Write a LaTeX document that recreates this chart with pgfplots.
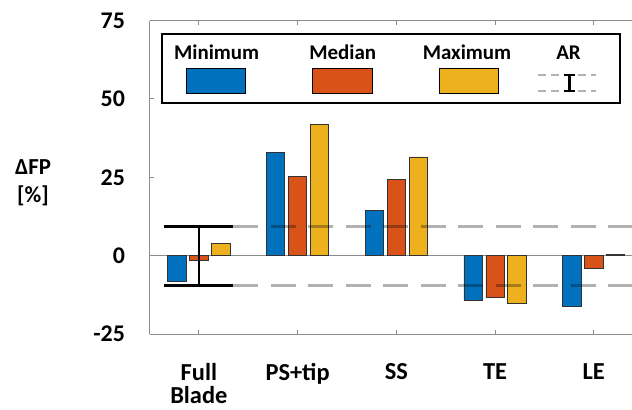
\documentclass[border=0pt]{standalone}
\usepackage{fontspec}
\setmainfont{Carlito}
\usepackage{pgfplots}
\pgfplotsset{compat=1.18}

\definecolor{mblue}{HTML}{0072BD}
\definecolor{morange}{HTML}{D95319}
\definecolor{myellow}{HTML}{EDB120}
\definecolor{axgray}{HTML}{8C8C8C}

\begin{document}
\begin{tikzpicture}
\begin{axis}[
  scale only axis,
  width=483.7bp, height=313.5bp,
  xmin=0.5, xmax=5.4, ymin=-25, ymax=75,
  axis x line=box, axis y line=left,
  axis line style={-, axgray, line width=0.9bp},
  tick align=inside,
  major tick length=4bp,
  tick style={axgray, line width=0.9bp},
  xtick={1,2,3,4,5},
  xticklabels={{Full\\Blade},{PS+tip},{SS},{TE},{LE}},
  ytick={-25,0,25,50,75},
  /pgf/number format/assume math mode=true,
  ticklabel style={font=\fontsize{24}{22}\selectfont\bfseries},
  x tick label style={font=\fontsize{24.5}{22.5}\selectfont\bfseries, align=center, anchor=north, yshift=-26bp},
  y tick label style={anchor=east, xshift=-21bp},
  clip=false,
]
\coordinate (TL) at (rel axis cs:0,1);

% zero line
\addplot[axgray, line width=0.8bp] coordinates {(0.5,0) (5.4,0)};

% Minimum
\addplot[ybar, bar width=0.185, bar shift=-0.222, fill=mblue, draw=black!80, line width=0.7bp]
  coordinates {(1,-8.2) (2,33.0) (3,14.4) (4,-14.2) (5,-16.1)};
% Median
\addplot[ybar, bar width=0.185, bar shift=0, fill=morange, draw=black!80, line width=0.7bp]
  coordinates {(1,-1.4) (2,25.3) (3,24.4) (4,-13.3) (5,-4.1)};
% Maximum
\addplot[ybar, bar width=0.185, bar shift=0.222, fill=myellow, draw=black!80, line width=0.7bp]
  coordinates {(1,3.9) (2,41.9) (3,31.5) (4,-15.3) (5,0.4)};

% AR band limits
\addplot[black, opacity=0.3, line width=3.2bp, dash pattern=on 25bp off 12.5bp]
  coordinates {(1.35,9.3) (5.4,9.3)};
\addplot[black, opacity=0.3, line width=3.2bp, dash pattern=on 25bp off 12.5bp]
  coordinates {(1.35,-9.5) (5.4,-9.5)};

% AR range marker
\addplot[black, line width=2.2bp] coordinates {(0.645,9.3) (1.35,9.3)};
\addplot[black, line width=2.2bp] coordinates {(1,9.3) (1,-9.5)};
\addplot[black, line width=2.2bp] coordinates {(0.645,-9.5) (1.35,-9.5)};
\end{axis}

\begin{scope}[x=1bp, y=-1bp, shift={(TL)}, shift={(-149.5,-20.5)}]
  % legend
  \draw[black, line width=2.2bp, fill=white] (162.3,34) rectangle (620,102.7);
  \begin{scope}[every node/.style={font=\fontsize{21}{21}\selectfont\bfseries, anchor=base, inner sep=0pt}]
    \node at (216.7,59.3) {Minimum};
    \node at (342.7,59.3) {Median};
    \node at (467.0,59.3) {Maximum};
    \node at (568.5,59.3) {AR};
  \end{scope}
  \draw[fill=mblue, line width=1.5bp] (186.7,68.3) rectangle (245.7,93.3);
  \draw[fill=morange, line width=1.5bp] (312.3,68.3) rectangle (372.3,93.3);
  \draw[fill=myellow, line width=1.5bp] (439.3,68.3) rectangle (498.3,93.3);
  \draw[black!30, line width=1.8bp, dash pattern=on 8bp off 5.3bp] (538,75) -- (596,75);
  \draw[black!30, line width=1.8bp, dash pattern=on 8bp off 5.3bp] (538,90.7) -- (596,90.7);
  \draw[black, line width=2.4bp] (563.5,75) -- (575,75) (569.3,75) -- (569.3,90.7) (563.5,90.7) -- (575,90.7);

  % y label
  \node[font=\fontsize{23}{28}\selectfont\bfseries, align=center] at (33,183) {ΔFP\\{[\%]}};

  \pgfresetboundingbox
  \path[use as bounding box] (0,0) rectangle (632,409);
\end{scope}
\end{tikzpicture}
\end{document}
